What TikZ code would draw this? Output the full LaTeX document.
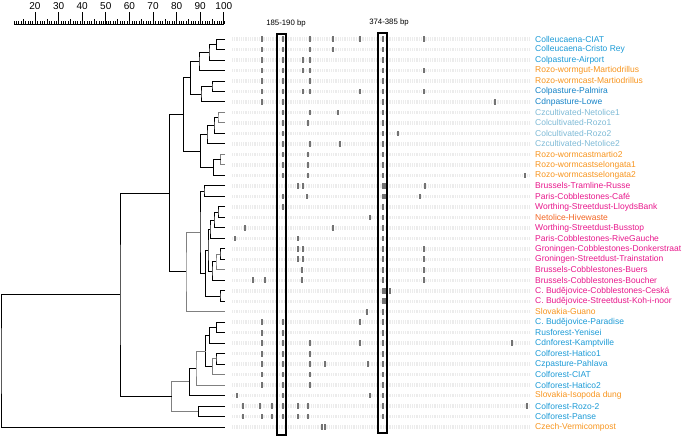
\documentclass[tikz,border=0pt]{standalone}
\usepackage{fontspec}
\setmainfont{Liberation Sans}
\usepackage{tikz}
\usetikzlibrary{positioning,calc}

\definecolor{soilblue}{HTML}{1B9AD6}
\definecolor{deepblue}{HTML}{1482C6}
\definecolor{paleblue}{HTML}{7EBAD6}
\definecolor{wormorange}{HTML}{F7941D}
\definecolor{hiveorange}{HTML}{F26522}
\definecolor{citypink}{HTML}{E8168B}

% join two branches of the dendrogram at height #3
\newcommand{\merge}[5][]{%
  \path let \p1=($(#4)!.5!(#5)$) in coordinate (#2) at (#3pt,\y1);
  \draw[#1] (#4) -| (#2) |- (#5);}

\begin{document}
\begin{tikzpicture}[x=1pt,y=-1pt,
    lab/.style={anchor=west,inner sep=0pt,font=\fontsize{8.5}{9}\selectfont},
    bplab/.style={inner sep=0pt,font=\fontsize{7.8}{9}\selectfont},
    scalelab/.style={inner sep=0pt,font=\fontsize{10}{11}\selectfont},
    lane/.style={gray!15,line width=3.5pt,dash pattern=on 1pt off 0.8pt},
    band/.style={fill=black!55},
    gelbox/.style={draw=black,line width=1.1pt}]
  \useasboundingbox (0,0) rectangle (685,436);

    %%%%% THE SCALE
    \draw[line width=0.6pt] (13.8,24) -- (223.8,24);
    \foreach \v in {11,...,100}
      \draw[line width=0.4pt] ({35+(\v-20)*2.36},24) -- ++(0,-3);
    \foreach \v in {15,25,...,95}
      \draw[line width=0.5pt] ({35+(\v-20)*2.36},24) -- ++(0,-5);
    \foreach \v in {20,30,...,100} {
      \draw[line width=0.7pt] ({35+(\v-20)*2.36},24) -- ++(0,-12);
      \node[scalelab] (s\v) at ({35+(\v-20)*2.36},6) {\v};
    }

    %%%%% THE GEL
    \foreach \r in {1,...,38}
      \draw[lane] (232,{39+(\r-1)*10.49}) -- (530,{39+(\r-1)*10.49});
    \foreach \r/\bl in {
        1/{262,283,310,333,360,383,424}, 2/{262,283,310,333,383},
        3/{262,283,303,310,383}, 4/{262,283,303,310,383,424},
        5/{262,283,310,383}, 6/{262,283,303,310,360,383,424},
        7/{262,283,383,495}, 8/{283,310,338,383}, 9/{283,308,383},
        10/{283,383,398}, 11/{283,310,340,383}, 12/{283,308,383},
        13/{283,308,383}, 14/{283,308,383,525}, 15/{298,303,383,385,425},
        16/{283,307,383,385,420}, 17/{283,383}, 18/{370,383},
        19/{245,333,383}, 20/{235,298,383}, 21/{298,303,383,424},
        22/{298,303,383,424}, 23/{302,383,424},
        24/{253,265,302,383,424}, 25/{383,385,390}, 26/{383,385}, 27/{367,383},
        28/{262,283,360,383}, 29/{262,283,383},
        30/{262,283,310,360,383,512}, 31/{262,283,310,383},
        32/{262,283,310,325,368,383}, 33/{262,283,310,383},
        34/{262,283,310,383}, 35/{237,283,370,383},
        36/{243,260,272,283,298,308,383,527},
        37/{243,262,272,283,298,308,383}, 38/{322,325}} {
      \pgfmathsetmacro\yy{39+(\r-1)*10.49}
      \foreach \b in \bl
        \fill[band] (\b-0.9,\yy-2.8) rectangle (\b+0.9,\yy+2.8);
    }
    \draw[gelbox] (277,34) rectangle (286,435);
    \draw[gelbox] (378,33) rectangle (387,433);
    \node[bplab] (bp1) at (286,23) {185-190 bp};
    \node[bplab] (bp2) at (389,22) {374-385 bp};

    %%%%% THE LABELS
    \foreach \i/\txt/\col in {
        1/Colleucaena-CIAT/soilblue, 2/Colleucaena-Cristo Rey/soilblue,
        3/Colpasture-Airport/soilblue, 4/Rozo-wormgut-Martiodrillus/wormorange,
        5/Rozo-wormcast-Martiodrillus/wormorange, 6/Colpasture-Palmira/deepblue,
        7/Cdnpasture-Lowe/deepblue, 8/Czcultivated-Netolice1/paleblue,
        9/Colcultivated-Rozo1/paleblue, 10/Colcultivated-Rozo2/paleblue,
        11/Czcultivated-Netolice2/paleblue, 12/Rozo-wormcastmartio2/wormorange,
        13/Rozo-wormcastselongata1/wormorange, 14/Rozo-wormcastselongata2/wormorange,
        15/Brussels-Tramline-Russe/citypink, 16/Paris-Cobblestones-Café/citypink,
        17/Worthing-Streetdust-LloydsBank/citypink, 18/Netolice-Hivewaste/hiveorange,
        19/Worthing-Streetdust-Busstop/citypink, 20/Paris-Cobblestones-RiveGauche/citypink,
        21/Groningen-Cobblestones-Donkerstraat/citypink,
        22/Groningen-Streetdust-Trainstation/citypink,
        23/Brussels-Cobblestones-Buers/citypink, 24/Brussels-Cobblestones-Boucher/citypink,
        25/C. Budějovice-Cobblestones-Ceská/citypink,
        26/C. Budějovice-Streetdust-Koh-i-noor/citypink,
        27/Slovakia-Guano/wormorange, 28/C. Budějovice-Paradise/soilblue,
        29/Rusforest-Yenisei/soilblue, 30/Cdnforest-Kamptville/soilblue,
        31/Colforest-Hatico1/soilblue, 32/Czpasture-Pahlava/soilblue,
        33/Colforest-CIAT/soilblue, 34/Colforest-Hatico2/soilblue,
        35/Slovakia-Isopoda dung/wormorange, 36/Colforest-Rozo-2/soilblue,
        37/Colforest-Panse/soilblue, 38/Czech-Vermicompost/wormorange} {
      \coordinate (L\i) at (225,{39+(\i-1)*10.49});
      \node[lab,text=\col] (lab\i) at (535,{39+(\i-1)*10.49}) {\txt};
    }

    %%%%% THE DENDROGRAM
    \begin{scope}[line width=0.9pt]
      % upper group
      \merge{d1}{216.7}{L1}{L2}
      \merge{d2}{209}{d1}{L3}
      \merge{d3}{199}{d2}{L4}
      \merge{d4}{212}{L5}{L6}
      \merge{d5}{201}{d4}{L7}
      \merge{d6}{190.7}{d3}{d5}
      \merge[gray]{d7}{218}{L8}{L9}
      \merge{d8}{214}{d7}{L10}
      \merge{d9}{207}{d8}{L11}
      \merge[gray]{d10}{220.7}{L12}{L13}
      \merge{d11}{213.3}{d10}{L14}
      \merge{d12}{200.7}{d9}{d11}
      \merge{d13}{183.3}{d6}{d12}
      % street dust group
      \merge{a1}{204}{L15}{L16}
      \merge{b1}{218}{L17}{L18}
      \merge{b2}{214}{b1}{L19}
      \merge{b3}{210}{b2}{L20}
      \merge{b4}{220}{L21}{L22}
      \merge[gray]{b5}{216}{b4}{L23}
      \merge{b6}{212}{b5}{L24}
      \merge{b7}{208}{b3}{b6}
      \merge{c1}{220}{L25}{L26}
      \merge{c2}{205.5}{b7}{c1}
      \merge{a2}{200}{a1}{c2}
      \merge[gray]{a3}{186}{a2}{L27}
      \merge{top}{169.3}{d13}{a3}
      % forest group
      \merge{e1}{216.7}{L28}{L29}
      \merge{e2}{209.3}{e1}{L30}
      \merge{e3}{216}{L31}{L32}
      \merge[gray]{e4}{212.3}{e3}{L33}
      \merge{e5}{205.7}{e2}{e4}
      \merge[gray]{e6}{196}{e5}{L34}
      \merge{e7}{189.3}{e6}{L35}
      \merge{e8}{198.3}{L36}{L37}
      \merge[gray]{e9}{171.7}{e7}{e8}
      \merge{big}{120}{top}{e9}
      \merge{root}{1}{big}{L38}
    \end{scope}
\end{tikzpicture}
\end{document}
